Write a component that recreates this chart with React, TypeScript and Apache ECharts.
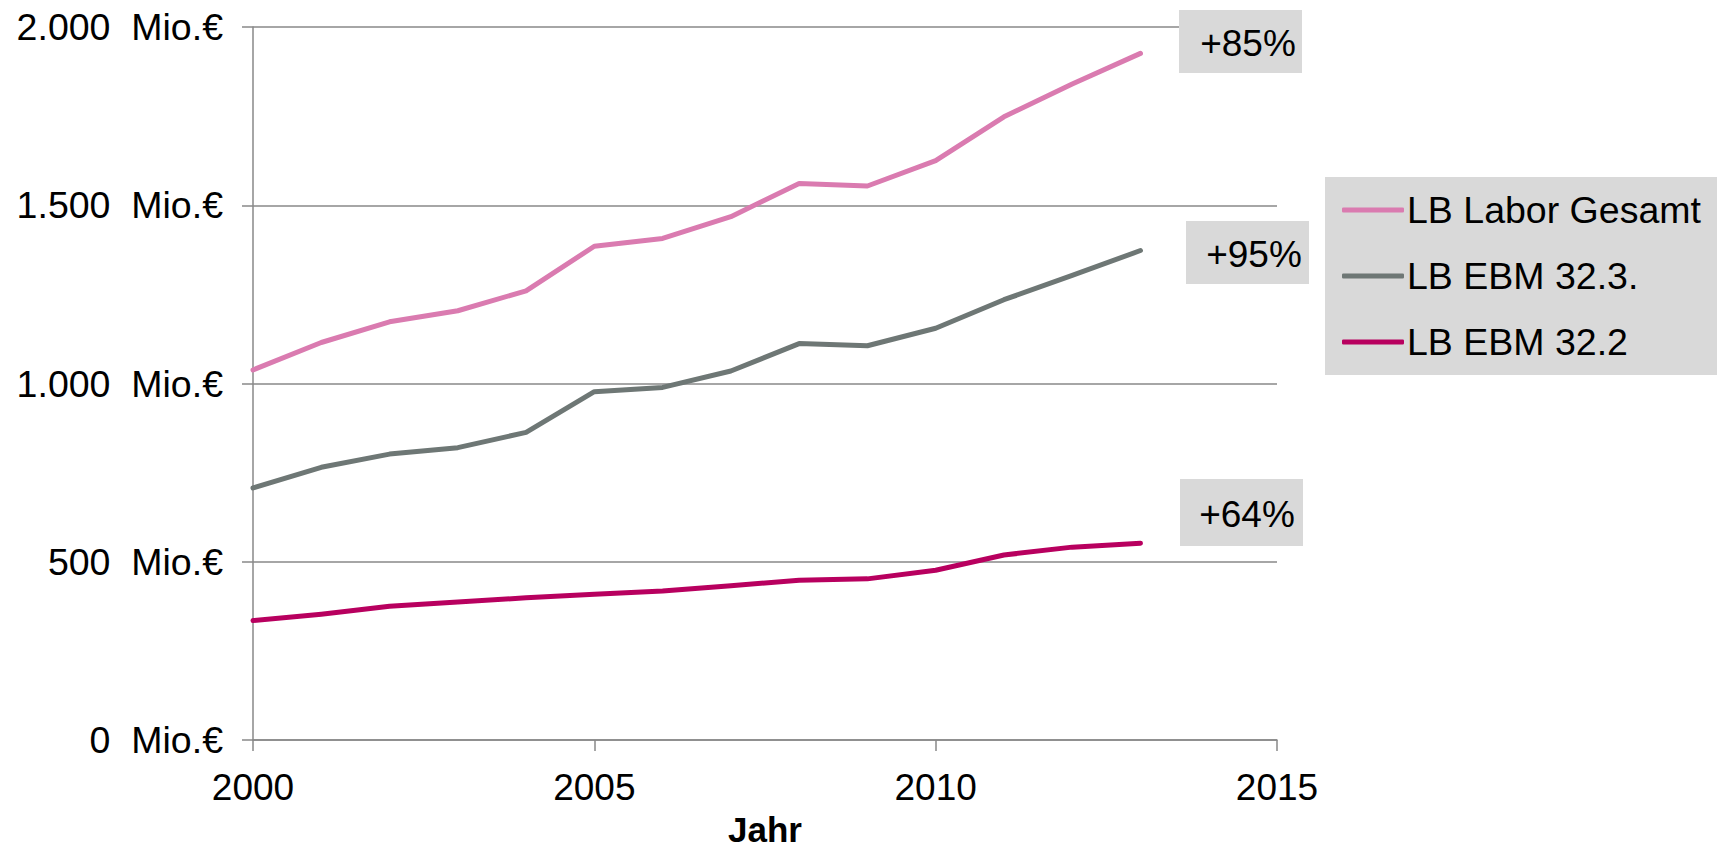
import React, { useEffect, useRef } from "react";
import * as echarts from "echarts";

const years = [2000, 2001, 2002, 2003, 2004, 2005, 2006, 2007, 2008, 2009, 2010, 2011, 2012, 2013];
const laborGesamt = [1038, 1115, 1173, 1204, 1260, 1385, 1407, 1468, 1561, 1554, 1625, 1748, 1840, 1926];
const ebm323 = [707, 765, 802, 820, 863, 977, 989, 1035, 1112, 1106, 1155, 1235, 1303, 1373];
const ebm322 = [335, 353, 375, 387, 399, 409, 418, 433, 448, 452, 476, 519, 541, 552];
const seriesNames = ["LB Labor Gesamt", "LB EBM 32.3.", "LB EBM 32.2"];
const seriesColors = ["#DA7BB0", "#6E7775", "#B8005F"];
const growthLabels = ["+85%", "+95%", "+64%"];
const xTicks = [2000, 2005, 2010, 2015];
const yTicks = [0, 500, 1000, 1500, 2000];

const FONT = "Liberation Sans, Arial, sans-serif";

function fmtY(v: number): string {
  const s = String(Math.round(v));
  const withDots = s.replace(/\B(?=(\d{3})+(?!\d))/g, ".");
  return withDots + "  Mio.€";
}

export default function App() {
  const ref = useRef<HTMLDivElement>(null);
  useEffect(() => {
    if (!ref.current) return;
    const chart = echarts.init(ref.current, undefined, { renderer: "svg" });
    const dataSets = [laborGesamt, ebm323, ebm322];
    const boxes = [
      { x: 1179, y: 10, w: 123, h: 63, tx: 1248, ty: 43 },
      { x: 1186, y: 221, w: 123, h: 63, tx: 1254, ty: 254 },
      { x: 1180, y: 479, w: 123, h: 67, tx: 1247, ty: 514 },
    ];
    const graphic: any[] = [];
    boxes.forEach((b, i) => {
      graphic.push({
        type: "rect",
        left: b.x,
        top: b.y,
        shape: { width: b.w, height: b.h },
        style: { fill: "#D9D9D9" },
        z: 10,
      });
      graphic.push({
        type: "text",
        x: b.tx,
        y: b.ty,
        style: {
          text: growthLabels[i],
          fill: "#000",
          font: `37px ${FONT}`,
          textAlign: "center",
          textVerticalAlign: "middle",
        },
        z: 11,
      });
    });
    chart.setOption({
      animation: false,
      textStyle: { fontFamily: FONT },
      grid: { left: 253, right: 440, top: 27, bottom: 111, containLabel: false, outerBoundsMode: "none" },
      xAxis: {
        type: "value",
        min: xTicks[0],
        max: xTicks[xTicks.length - 1],
        interval: 5,
        name: "Jahr",
        nameLocation: "middle",
        nameGap: 72,
        nameTextStyle: { fontSize: 35, fontWeight: "bold", color: "#000", fontFamily: FONT },
        axisLine: { show: true, lineStyle: { color: "#888", width: 1.5 } },
        axisTick: { show: true, length: 11, lineStyle: { color: "#888", width: 1.5 } },
        axisLabel: { fontSize: 37, color: "#000", margin: 29, formatter: (v: number) => String(v), fontFamily: FONT },
        splitLine: { show: false },
      },
      yAxis: {
        type: "value",
        min: yTicks[0],
        max: yTicks[yTicks.length - 1],
        interval: 500,
        axisLine: { show: true, lineStyle: { color: "#888", width: 1.5 } },
        axisTick: { show: true, length: 11, lineStyle: { color: "#888", width: 1.5 } },
        axisLabel: { fontSize: 37.5, color: "#000", margin: 30, formatter: fmtY, fontFamily: FONT },
        splitLine: { show: true, lineStyle: { color: "#888", width: 1.5 } },
      },
      legend: {
        orient: "vertical",
        left: 1325,
        top: 177,
        width: 400,
        backgroundColor: "#D9D9D9",
        padding: [14, 20, 14, 17],
        itemGap: 28,
        itemWidth: 62,
        itemHeight: 5,
        icon: "roundRect",
        textStyle: { fontSize: 37.5, color: "#000", padding: [0, 0, 0, -2], fontFamily: FONT },
        data: seriesNames,
      },
      graphic,
      series: seriesNames.map((name, i) => ({
        name,
        type: "line",
        symbol: "none",
        color: seriesColors[i],
        lineStyle: { width: 5, color: seriesColors[i], cap: "round", join: "round" },
        data: years.map((y, j) => [y, dataSets[i][j]]),
      })),
    });
    return () => chart.dispose();
  }, []);
  return (
    <div
      ref={ref}
      style={{ position: "fixed", left: 0, top: 0, width: 1717, height: 851, background: "#fff" }}
    />
  );
}
